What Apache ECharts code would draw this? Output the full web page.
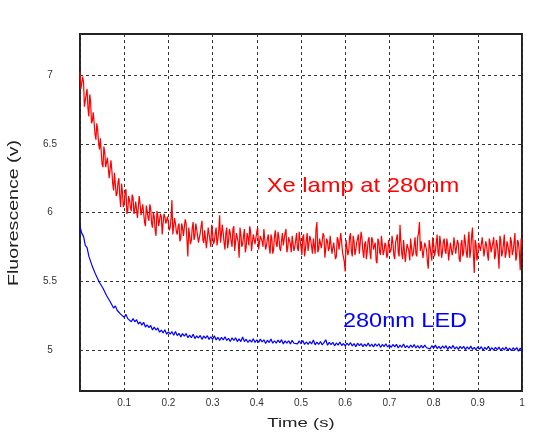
<!DOCTYPE html>
<html>
<head>
<meta charset="utf-8">
<script src="https://cdn.jsdelivr.net/npm/echarts@6/dist/echarts.min.js"></script>
<style>
  html, body { margin: 0; padding: 0; background: #ffffff; }
  #chart { width: 547px; height: 436px; }
</style>
</head>
<body>
<div id="chart"></div>
<script>
// Fluorescence decay traces from 0 to 1 s.
// Xe lamp trace sampled every 2 ms, LED trace every 4 ms.
const xeLampStep = 0.002;
const ledStep = 0.004;

const seriesNames = ['Xe lamp at 280nm', '280nm LED'];

const xeLampSignal = [
  7.02, 6.90, 6.91, 6.99, 6.95, 6.77, 6.78, 6.86, 6.90, 6.76,
  6.70, 6.86, 6.81, 6.65, 6.67, 6.73, 6.73, 6.57, 6.53, 6.65,
  6.60, 6.51, 6.46, 6.54, 6.53, 6.35, 6.33, 6.48, 6.44, 6.33,
  6.33, 6.40, 6.41, 6.25, 6.24, 6.38, 6.31, 6.21, 6.16, 6.29,
  6.28, 6.12, 6.14, 6.22, 6.25, 6.12, 6.04, 6.21, 6.15, 6.04,
  6.06, 6.15, 6.17, 5.99, 6.01, 6.12, 6.09, 6.04, 6.01, 6.13,
  6.11, 5.99, 6.02, 6.08, 6.09, 5.96, 5.95, 6.12, 6.06, 5.98,
  5.99, 6.06, 6.07, 5.93, 5.90, 6.05, 6.01, 5.96, 5.94, 6.06,
  6.03, 5.92, 5.89, 6.00, 5.97, 5.87, 5.83, 6.01, 5.98, 5.90,
  5.90, 5.99, 5.97, 5.84, 5.92, 5.99, 5.97, 5.92, 5.92, 5.97,
  5.97, 5.87, 5.89, 5.96, 6.09, 5.84, 5.84, 5.96, 5.92, 5.86,
  5.84, 5.90, 5.92, 5.79, 5.81, 5.92, 5.89, 5.83, 5.83, 5.95,
  5.92, 5.80, 5.68, 5.89, 5.90, 5.77, 5.80, 5.89, 5.93, 5.80,
  5.83, 5.92, 5.88, 5.83, 5.78, 5.77, 5.85, 5.90, 5.94, 5.80,
  5.78, 5.87, 5.88, 5.74, 5.81, 5.89, 5.88, 5.80, 5.75, 5.91,
  5.85, 5.77, 5.79, 5.85, 5.89, 5.76, 5.81, 5.87, 5.98, 5.78,
  5.77, 5.91, 5.85, 5.78, 5.73, 5.85, 5.89, 5.74, 5.79, 5.88,
  5.85, 5.79, 5.75, 5.88, 5.90, 5.72, 5.79, 5.85, 5.86, 5.78,
  5.67, 5.89, 5.84, 5.75, 5.77, 5.83, 5.88, 5.71, 5.75, 5.85,
  5.82, 5.76, 5.90, 5.86, 5.72, 5.73, 5.84, 5.83, 5.77, 5.78,
  5.86, 5.89, 5.73, 5.72, 5.83, 5.84, 5.79, 5.75, 5.88, 5.87,
  5.73, 5.76, 5.81, 5.84, 5.75, 5.70, 5.84, 5.81, 5.70, 5.73,
  5.83, 5.87, 5.77, 5.75, 5.86, 5.82, 5.74, 5.72, 5.80, 5.85,
  5.76, 5.77, 5.85, 5.88, 5.71, 5.74, 5.82, 5.83, 5.77, 5.71,
  5.83, 5.83, 5.72, 5.75, 5.80, 5.85, 5.74, 5.72, 5.86, 5.80,
  5.75, 5.69, 5.82, 5.84, 5.68, 5.73, 5.80, 5.85, 5.72, 5.72,
  5.83, 5.80, 5.75, 5.70, 5.81, 5.82, 5.70, 5.88, 5.93, 5.71,
  5.73, 5.81, 5.82, 5.74, 5.74, 5.85, 5.83, 5.67, 5.66, 5.81,
  5.79, 5.72, 5.74, 5.83, 5.82, 5.70, 5.71, 5.78, 5.78, 5.66,
  5.68, 5.82, 5.80, 5.73, 5.73, 5.85, 5.84, 5.71, 5.70, 5.64,
  5.57, 5.80, 5.79, 5.69, 5.72, 5.82, 5.85, 5.72, 5.68, 5.83,
  5.79, 5.69, 5.73, 5.78, 5.81, 5.84, 5.70, 5.70, 5.86, 5.81,
  5.72, 5.67, 5.77, 5.79, 5.66, 5.72, 5.80, 5.82, 5.71, 5.66,
  5.82, 5.80, 5.73, 5.73, 5.78, 5.65, 5.63, 5.81, 5.79, 5.71,
  5.69, 5.83, 5.83, 5.69, 5.72, 5.78, 5.76, 5.67, 5.69, 5.80,
  5.80, 5.71, 5.73, 5.83, 5.78, 5.69, 5.66, 5.78, 5.79, 5.84,
  5.71, 5.68, 5.91, 5.79, 5.70, 5.66, 5.80, 5.81, 5.64, 5.71,
  5.77, 5.78, 5.72, 5.65, 5.81, 5.80, 5.68, 5.70, 5.76, 5.82,
  5.70, 5.68, 5.82, 5.85, 5.93, 5.72, 5.79, 5.79, 5.67, 5.66,
  5.78, 5.77, 5.73, 5.64, 5.59, 5.80, 5.80, 5.70, 5.65, 5.82,
  5.77, 5.68, 5.72, 5.78, 5.84, 5.71, 5.68, 5.83, 5.78, 5.67,
  5.71, 5.79, 5.81, 5.72, 5.70, 5.81, 5.76, 5.65, 5.66, 5.78,
  5.79, 5.69, 5.72, 5.82, 5.83, 5.70, 5.69, 5.80, 5.77, 5.66,
  5.64, 5.77, 5.80, 5.68, 5.71, 5.84, 5.78, 5.71, 5.67, 5.79,
  5.86, 5.67, 5.72, 5.83, 5.89, 5.70, 5.56, 5.80, 5.77, 5.65,
  5.70, 5.78, 5.79, 5.72, 5.71, 5.82, 5.81, 5.68, 5.68, 5.79,
  5.76, 5.69, 5.65, 5.81, 5.78, 5.71, 5.72, 5.78, 5.82, 5.66,
  5.69, 5.80, 5.77, 5.70, 5.59, 5.83, 5.80, 5.68, 5.71, 5.77,
  5.84, 5.67, 5.70, 5.79, 5.76, 5.72, 5.67, 5.82, 5.79, 5.69,
  5.72, 5.78, 5.85, 5.65, 5.68, 5.80, 5.78, 5.71, 5.58, 5.81,
  5.77
];

const ledSignal = [
  5.898, 5.848, 5.826, 5.760, 5.744, 5.682, 5.668, 5.606, 5.600, 5.544,
  5.542, 5.490, 5.498, 5.448, 5.448, 5.396, 5.396, 5.352, 5.352, 5.304,
  5.320, 5.288, 5.299, 5.260, 5.268, 5.236, 5.258, 5.227, 5.240, 5.204,
  5.227, 5.204, 5.219, 5.188, 5.203, 5.180, 5.201, 5.166, 5.181, 5.162,
  5.177, 5.144, 5.165, 5.144, 5.159, 5.128, 5.143, 5.123, 5.146, 5.114,
  5.131, 5.114, 5.132, 5.106, 5.134, 5.104, 5.120, 5.094, 5.118, 5.100,
  5.118, 5.088, 5.107, 5.088, 5.113, 5.082, 5.101, 5.086, 5.105, 5.076,
  5.101, 5.084, 5.103, 5.076, 5.095, 5.076, 5.103, 5.072, 5.091, 5.068,
  5.091, 5.072, 5.095, 5.068, 5.083, 5.060, 5.087, 5.068, 5.087, 5.060,
  5.079, 5.060, 5.093, 5.060, 5.077, 5.053, 5.072, 5.056, 5.081, 5.053,
  5.073, 5.054, 5.078, 5.057, 5.073, 5.046, 5.070, 5.053, 5.079, 5.048,
  5.066, 5.049, 5.071, 5.052, 5.074, 5.043, 5.065, 5.048, 5.066, 5.043,
  5.069, 5.048, 5.062, 5.043, 5.065, 5.044, 5.068, 5.039, 5.057, 5.040,
  5.060, 5.043, 5.071, 5.036, 5.056, 5.039, 5.061, 5.036, 5.052, 5.073,
  5.033, 5.054, 5.038, 5.055, 5.029, 5.050, 5.034, 5.057, 5.031, 5.046,
  5.028, 5.049, 5.033, 5.052, 5.028, 5.045, 5.023, 5.048, 5.030, 5.045,
  5.023, 5.041, 5.026, 5.050, 5.024, 5.041, 5.021, 5.043, 5.026, 5.044,
  5.018, 5.039, 5.023, 5.044, 5.020, 5.036, 5.017, 5.039, 5.022, 5.040,
  5.013, 5.035, 5.018, 5.042, 5.015, 5.031, 5.013, 5.034, 5.018, 5.038,
  5.013, 5.031, 5.011, 5.032, 5.014, 5.034, 5.015, 5.029, 5.007, 5.030,
  5.012, 5.034, 5.009, 5.025, 5.007, 5.028, 5.012, 5.030, 5.003, 5.025,
  5.009, 5.032, 5.006, 5.022, 5.003, 5.025, 5.009, 5.026, 5.000, 5.022,
  5.005, 5.027, 5.003, 5.018, 5.000, 5.022, 5.005, 5.023, 4.997, 5.018,
  5.002, 5.026, 4.999, 5.015, 4.997, 5.018, 5.002, 5.020, 4.993, 5.015,
  4.999, 5.020, 4.996, 5.012, 4.993, 5.015, 4.999, 5.016, 4.990, 5.012,
  4.993
];

// Tick positions and axis ranges
const voltTicks = [5, 5.5, 6, 6.5, 7];
const timeRange = [0, 1];
const voltRange = [4.7, 7.3];

const axisTitleX = 'Time (s)';
const axisTitleY = 'Fluorescence (v)';

function toPairs(values, step) {
  return values.map((v, i) => [Number((i * step).toFixed(4)), v]);
}

const FONT = '"Liberation Sans", Arial, Helvetica, sans-serif';
const gridDash = { color: '#333333', type: [3, 3], width: 1 };

const chart = echarts.init(document.getElementById('chart'), null, { renderer: 'canvas' });

chart.setOption({
  animation: false,
  backgroundColor: '#ffffff',
  grid: {
    left: 80, right: 25, top: 34, bottom: 45,
    show: true,
    borderColor: '#222222',
    borderWidth: 2,
    backgroundColor: 'transparent'
  },
  xAxis: {
    type: 'value',
    min: timeRange[0],
    max: timeRange[1],
    interval: 0.1,
    axisLine: { show: false },
    axisTick: { show: false },
    splitLine: { show: true, lineStyle: gridDash },
    axisLabel: {
      color: '#333333',
      fontFamily: FONT,
      fontSize: 10,
      margin: 7,
      formatter: v => (v === 0 ? '' : String(Number(v.toFixed(1))))
    }
  },
  yAxis: {
    type: 'value',
    min: voltRange[0],
    max: voltRange[1],
    axisLine: { show: false },
    axisTick: { show: false, customValues: voltTicks },
    splitLine: { show: true, lineStyle: gridDash },
    axisLabel: {
      customValues: voltTicks,
      color: '#333333',
      fontFamily: FONT,
      fontSize: 10,
      align: 'center',
      margin: 30,
      formatter: v => String(v)
    }
  },
  series: [
    {
      name: seriesNames[0],
      type: 'line',
      data: toPairs(xeLampSignal, xeLampStep),
      showSymbol: false,
      lineStyle: { color: '#ff0000', width: 1.2 },
      itemStyle: { color: '#ff0000' },
      z: 3
    },
    {
      name: seriesNames[1],
      type: 'line',
      data: toPairs(ledSignal, ledStep),
      showSymbol: false,
      lineStyle: { color: '#0000ff', width: 1.2 },
      itemStyle: { color: '#0000ff' },
      z: 3
    }
  ],
  graphic: [
    {
      type: 'text', x: 363, y: 186, scaleX: 1.13, z: 10,
      style: {
        text: seriesNames[0], fill: '#ff0000', font: '21px ' + FONT,
        align: 'center', verticalAlign: 'middle',
        textAlign: 'center', textVerticalAlign: 'middle'
      }
    },
    {
      type: 'text', x: 405, y: 321, scaleX: 1.12, z: 10,
      style: {
        text: seriesNames[1], fill: '#0000ff', font: '21px ' + FONT,
        align: 'center', verticalAlign: 'middle',
        textAlign: 'center', textVerticalAlign: 'middle'
      }
    },
    {
      type: 'text', x: 301, y: 423, scaleX: 1.43, z: 10,
      style: {
        text: axisTitleX, fill: '#222222', font: '13px ' + FONT,
        align: 'center', verticalAlign: 'middle',
        textAlign: 'center', textVerticalAlign: 'middle'
      }
    },
    {
      type: 'text', x: 14, y: 213, rotation: Math.PI / 2, scaleX: 1.4, z: 10,
      style: {
        text: axisTitleY, fill: '#222222', font: '14px ' + FONT,
        align: 'center', verticalAlign: 'middle',
        textAlign: 'center', textVerticalAlign: 'middle'
      }
    }
  ]
});
</script>
</body>
</html>
